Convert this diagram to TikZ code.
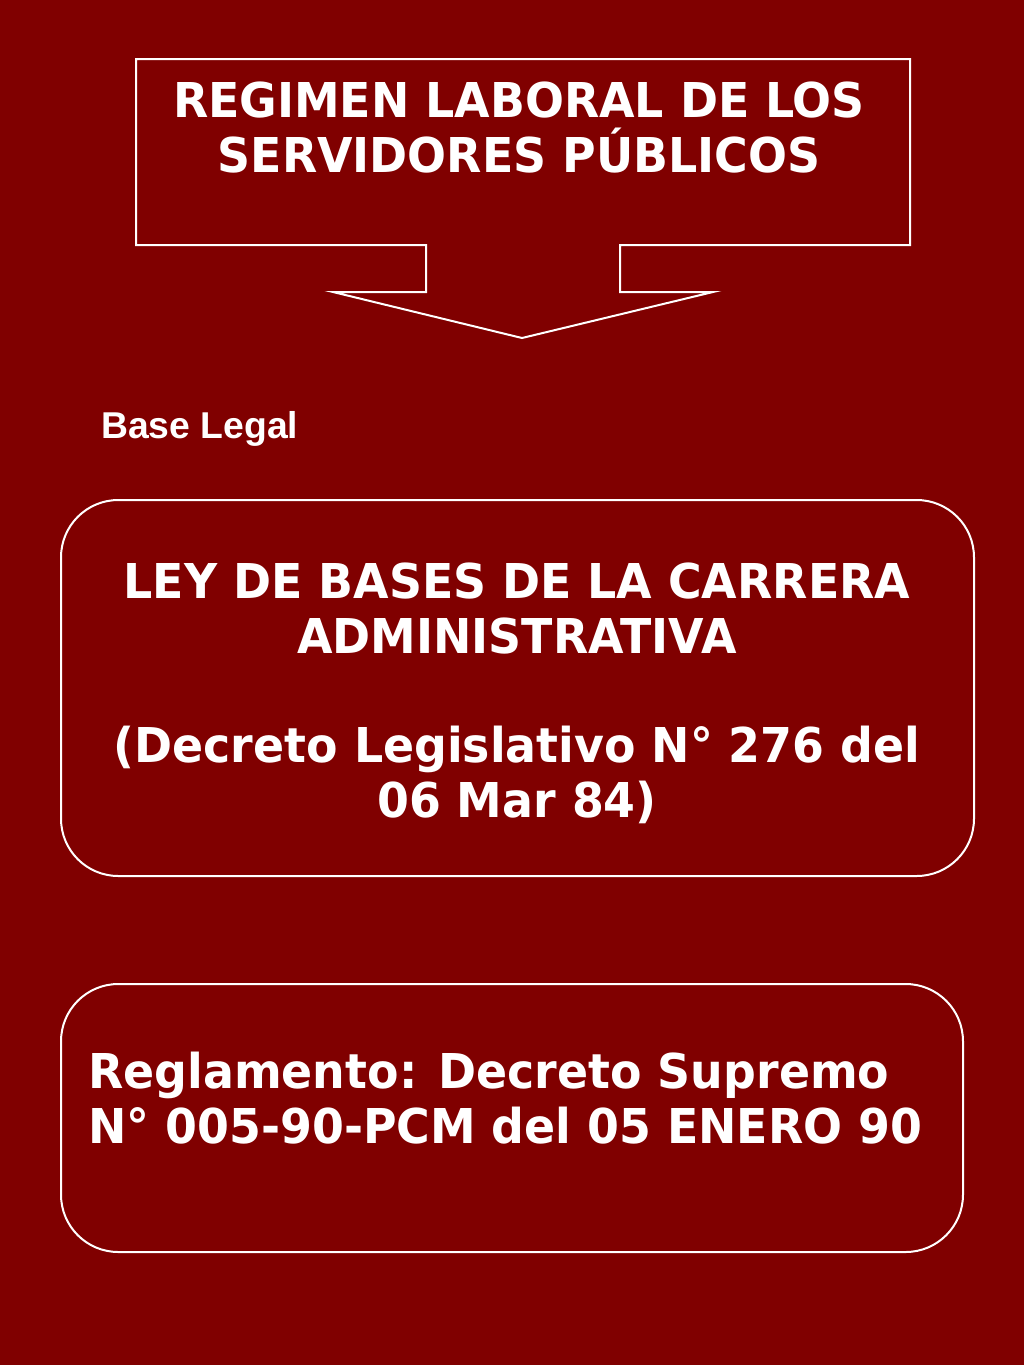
\documentclass[tikz,border=0pt]{standalone}
\usepackage{fontspec}
\setmainfont[FakeStretch=0.955]{DejaVu Sans}
\newfontfamily\arialfont{Liberation Sans}
\usepackage{tikz}
\definecolor{fondo}{RGB}{128,0,0}
\tikzset{
  marco/.style={draw=white, line width=1.5pt},
  cajatexto/.style={text=white, inner sep=0pt, align=center, font=\bfseries\fontsize{36}{41}\selectfont},
}

\begin{document}
\begin{tikzpicture}[x=0.75pt,y=0.75pt,yscale=-1,xscale=1]
        % fondo
        \fill [fondo] (0,0) rectangle (1024,1365);
        \useasboundingbox (0,0) rectangle (1024,1365);

        %Shape: Callout flecha abajo
        \draw [marco] (136,59) -- (910,59) -- (910,245) -- (620,245) -- (620,292) -- (713,292) -- (522,338) -- (333,292) -- (426,292) -- (426,245) -- (136,245) -- cycle ;
        % Text Node
        \node [cajatexto, anchor=north] (regimen) at (519,82) {REGIMEN LABORAL DE LOS\\SERVIDORES PÚBLICOS};

        % Text Node
        \node [text=white, inner sep=0pt, anchor=base west, font=\arialfont\bfseries\fontsize{28}{32}\selectfont] (baselegal) at (101,438) {Base Legal};

        %Shape: Rounded Rectangle
        \draw [marco, rounded corners=43pt] (61,500) rectangle (974,876) ;
        % Text Node
        \node [cajatexto, anchor=north] (ley) at (517,563) {LEY DE BASES DE LA CARRERA\\ADMINISTRATIVA\\[41pt](Decreto Legislativo N° 276 del\\06 Mar 84)};

        %Shape: Rounded Rectangle
        \draw [marco, rounded corners=43pt] (61,984) rectangle (963,1252) ;
        % Text Node
        \node [cajatexto, align=left, anchor=north west] (reglamento) at (88,1052) {Reglamento: Decreto Supremo\\N° 005-90-PCM del 05 ENERO 90};

\end{tikzpicture}
\end{document}
